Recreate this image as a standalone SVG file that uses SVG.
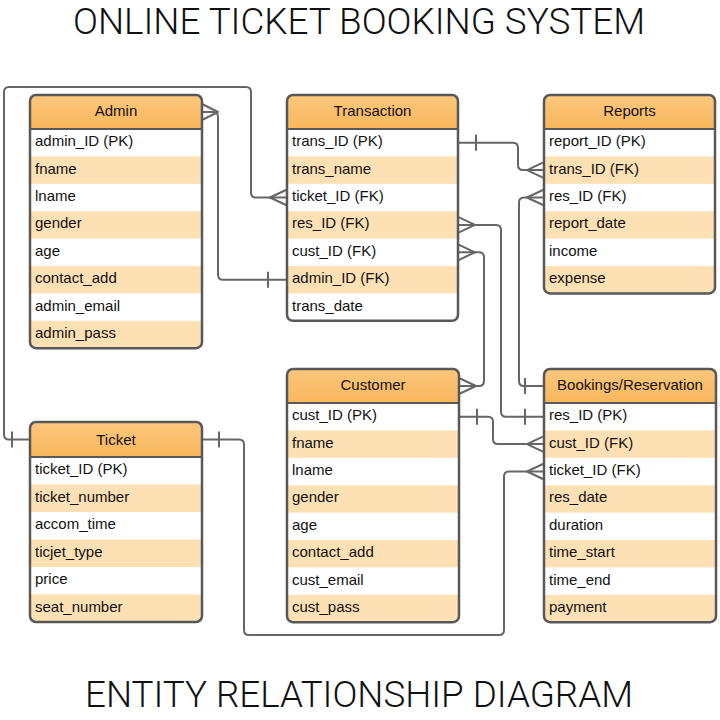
<svg xmlns="http://www.w3.org/2000/svg" width="720" height="720" viewBox="0 0 720 720">
<style>
.title{font-family:Roboto,"Open Sans","Liberation Sans",sans-serif;font-weight:300;font-size:36px;fill:#111;}
.t{font-family:"Liberation Sans",Arial,sans-serif;font-size:15px;fill:#111;}
.h{font-family:"Liberation Sans",Arial,sans-serif;font-size:15px;fill:#111;text-anchor:middle;}
.hdr{fill:url(#hg);}
.alt{fill:#fde0b4;}
.bg{fill:#fff;}
.border{fill:none;stroke:#585858;stroke-width:2.5;}
.sep{stroke:#585858;stroke-width:2;}
.c{fill:none;stroke:#666;stroke-width:2;stroke-linejoin:round;}
</style>
<defs>
<linearGradient id="hg" x1="0" y1="0" x2="0" y2="1">
<stop offset="0" stop-color="#fcc87d"/>
<stop offset="1" stop-color="#f9b65c"/>
</linearGradient>
<clipPath id="cpA"><rect x="30" y="95" width="172" height="253.2" rx="6"/></clipPath>
<clipPath id="cpT"><rect x="287" y="95" width="171" height="225.8" rx="6"/></clipPath>
<clipPath id="cpR"><rect x="544" y="95" width="171" height="198.4" rx="6"/></clipPath>
<clipPath id="cpC"><rect x="287" y="369" width="172" height="253.2" rx="6"/></clipPath>
<clipPath id="cpB"><rect x="544" y="369" width="172" height="253.2" rx="6"/></clipPath>
<clipPath id="cpK"><rect x="30" y="422" width="172" height="200" rx="6"/></clipPath>
</defs>
<rect width="720" height="720" fill="#fff"/>
<text class="title" x="359" y="34" text-anchor="middle" textLength="572" lengthAdjust="spacingAndGlyphs">ONLINE TICKET BOOKING SYSTEM</text>
<text class="title" x="359" y="707" text-anchor="middle" textLength="548" lengthAdjust="spacingAndGlyphs">ENTITY RELATIONSHIP DIAGRAM</text>

<g id="connectors">
<path class="c" d="M202,112 H213 Q218,112 218,117 V274.7 Q218,279.7 223,279.7 H287"/>
<path class="c" d="M202,104 L218,112 L202,120"/>
<path class="c" d="M268,271.7 V287.7"/>

<path class="c" d="M30,439.5 H9 Q4,439.5 4,434.5 V92 Q4,87 9,87 H246 Q251,87 251,92 V192.5 Q251,197.5 256,197.5 H287"/>
<path class="c" d="M12,431.5 V447.5"/>
<path class="c" d="M287,189.5 L270,197.5 L287,205.5"/>

<path class="c" d="M458,142.7 H513 Q518,142.7 518,147.7 V165.1 Q518,170.1 523,170.1 H544"/>
<path class="c" d="M476,134.7 V150.7"/>
<path class="c" d="M544,162.1 L527,170.1 L544,178.1"/>

<path class="c" d="M544,197.5 H524 Q519,197.5 519,202.5 V381 Q519,386 524,386 H544"/>
<path class="c" d="M544,189.5 L527,197.5 L544,205.5"/>
<path class="c" d="M525,378 V394"/>

<path class="c" d="M458,224.9 H496 Q501,224.9 501,229.9 V411.7 Q501,416.7 506,416.7 H544"/>
<path class="c" d="M458,216.9 L475,224.9 L458,232.9"/>
<path class="c" d="M525,408.7 V424.7"/>

<path class="c" d="M458,252.3 H479 Q484,252.3 484,257.3 V381 Q484,386 479,386 H459"/>
<path class="c" d="M458,244.3 L475,252.3 L458,260.3"/>
<path class="c" d="M459,378 L476,386 L459,394"/>

<path class="c" d="M459,416.7 H488 Q493,416.7 493,421.7 V439.1 Q493,444.1 498,444.1 H544"/>
<path class="c" d="M477,408.7 V424.7"/>
<path class="c" d="M544,436.1 L527,444.1 L544,452.1"/>

<path class="c" d="M202,439.5 H239 Q244,439.5 244,444.5 V630 Q244,635 249,635 H499 Q504,635 504,630 V476.5 Q504,471.5 509,471.5 H544"/>
<path class="c" d="M219,431.5 V447.5"/>
<path class="c" d="M544,463.5 L527,471.5 L544,479.5"/>
</g>

<g id="admin">
<g clip-path="url(#cpA)">
<rect class="bg" x="30" y="95" width="172" height="253.2"/>
<rect class="hdr" x="30" y="95" width="172" height="34"/>
<rect class="alt" x="30" y="156.4" width="172" height="27.4"/>
<rect class="alt" x="30" y="211.2" width="172" height="27.4"/>
<rect class="alt" x="30" y="266" width="172" height="27.4"/>
<rect class="alt" x="30" y="320.8" width="172" height="27.4"/>
</g>
<line class="sep" x1="30" y1="129" x2="202" y2="129"/>
<rect class="border" x="30" y="95" width="172" height="253.2" rx="6"/>
<text class="h" x="116" y="116">Admin</text>
<text class="t" x="35" y="146.2">admin_ID (PK)</text>
<text class="t" x="35" y="173.6">fname</text>
<text class="t" x="35" y="201">lname</text>
<text class="t" x="35" y="228.4">gender</text>
<text class="t" x="35" y="255.8">age</text>
<text class="t" x="35" y="283.2">contact_add</text>
<text class="t" x="35" y="310.6">admin_email</text>
<text class="t" x="35" y="338">admin_pass</text>
</g>

<g id="transaction">
<g clip-path="url(#cpT)">
<rect class="bg" x="287" y="95" width="171" height="225.8"/>
<rect class="hdr" x="287" y="95" width="171" height="34"/>
<rect class="alt" x="287" y="156.4" width="171" height="27.4"/>
<rect class="alt" x="287" y="211.2" width="171" height="27.4"/>
<rect class="alt" x="287" y="266" width="171" height="27.4"/>
</g>
<line class="sep" x1="287" y1="129" x2="458" y2="129"/>
<rect class="border" x="287" y="95" width="171" height="225.8" rx="6"/>
<text class="h" x="372.5" y="116">Transaction</text>
<text class="t" x="292" y="146.2">trans_ID (PK)</text>
<text class="t" x="292" y="173.6">trans_name</text>
<text class="t" x="292" y="201">ticket_ID (FK)</text>
<text class="t" x="292" y="228.4">res_ID (FK)</text>
<text class="t" x="292" y="255.8">cust_ID (FK)</text>
<text class="t" x="292" y="283.2">admin_ID (FK)</text>
<text class="t" x="292" y="310.6">trans_date</text>
</g>

<g id="reports">
<g clip-path="url(#cpR)">
<rect class="bg" x="544" y="95" width="171" height="198.4"/>
<rect class="hdr" x="544" y="95" width="171" height="34"/>
<rect class="alt" x="544" y="156.4" width="171" height="27.4"/>
<rect class="alt" x="544" y="211.2" width="171" height="27.4"/>
<rect class="alt" x="544" y="266" width="171" height="27.4"/>
</g>
<line class="sep" x1="544" y1="129" x2="715" y2="129"/>
<rect class="border" x="544" y="95" width="171" height="198.4" rx="6"/>
<text class="h" x="629.5" y="116">Reports</text>
<text class="t" x="549" y="146.2">report_ID (PK)</text>
<text class="t" x="549" y="173.6">trans_ID (FK)</text>
<text class="t" x="549" y="201">res_ID (FK)</text>
<text class="t" x="549" y="228.4">report_date</text>
<text class="t" x="549" y="255.8">income</text>
<text class="t" x="549" y="283.2">expense</text>
</g>

<g id="customer">
<g clip-path="url(#cpC)">
<rect class="bg" x="287" y="369" width="172" height="253.2"/>
<rect class="hdr" x="287" y="369" width="172" height="34"/>
<rect class="alt" x="287" y="430.4" width="172" height="27.4"/>
<rect class="alt" x="287" y="485.2" width="172" height="27.4"/>
<rect class="alt" x="287" y="540" width="172" height="27.4"/>
<rect class="alt" x="287" y="594.8" width="172" height="27.4"/>
</g>
<line class="sep" x1="287" y1="403" x2="459" y2="403"/>
<rect class="border" x="287" y="369" width="172" height="253.2" rx="6"/>
<text class="h" x="373" y="390">Customer</text>
<text class="t" x="292" y="420.2">cust_ID (PK)</text>
<text class="t" x="292" y="447.6">fname</text>
<text class="t" x="292" y="475">lname</text>
<text class="t" x="292" y="502.4">gender</text>
<text class="t" x="292" y="529.8">age</text>
<text class="t" x="292" y="557.2">contact_add</text>
<text class="t" x="292" y="584.6">cust_email</text>
<text class="t" x="292" y="612">cust_pass</text>
</g>

<g id="bookings">
<g clip-path="url(#cpB)">
<rect class="bg" x="544" y="369" width="172" height="253.2"/>
<rect class="hdr" x="544" y="369" width="172" height="34"/>
<rect class="alt" x="544" y="430.4" width="172" height="27.4"/>
<rect class="alt" x="544" y="485.2" width="172" height="27.4"/>
<rect class="alt" x="544" y="540" width="172" height="27.4"/>
<rect class="alt" x="544" y="594.8" width="172" height="27.4"/>
</g>
<line class="sep" x1="544" y1="403" x2="716" y2="403"/>
<rect class="border" x="544" y="369" width="172" height="253.2" rx="6"/>
<text class="h" x="630" y="390">Bookings/Reservation</text>
<text class="t" x="549" y="420.2">res_ID (PK)</text>
<text class="t" x="549" y="447.6">cust_ID (FK)</text>
<text class="t" x="549" y="475">ticket_ID (FK)</text>
<text class="t" x="549" y="502.4">res_date</text>
<text class="t" x="549" y="529.8">duration</text>
<text class="t" x="549" y="557.2">time_start</text>
<text class="t" x="549" y="584.6">time_end</text>
<text class="t" x="549" y="612">payment</text>
</g>

<g id="ticket">
<g clip-path="url(#cpK)">
<rect class="bg" x="30" y="422" width="172" height="200"/>
<rect class="hdr" x="30" y="422" width="172" height="35"/>
<rect class="alt" x="30" y="484.5" width="172" height="27.5"/>
<rect class="alt" x="30" y="539.5" width="172" height="27.5"/>
<rect class="alt" x="30" y="594.5" width="172" height="27.5"/>
</g>
<line class="sep" x1="30" y1="457" x2="202" y2="457"/>
<rect class="border" x="30" y="422" width="172" height="200" rx="6"/>
<text class="h" x="116" y="445">Ticket</text>
<text class="t" x="35" y="474">ticket_ID (PK)</text>
<text class="t" x="35" y="501.5">ticket_number</text>
<text class="t" x="35" y="529">accom_time</text>
<text class="t" x="35" y="556.5">ticjet_type</text>
<text class="t" x="35" y="584">price</text>
<text class="t" x="35" y="611.5">seat_number</text>
</g>
</svg>
